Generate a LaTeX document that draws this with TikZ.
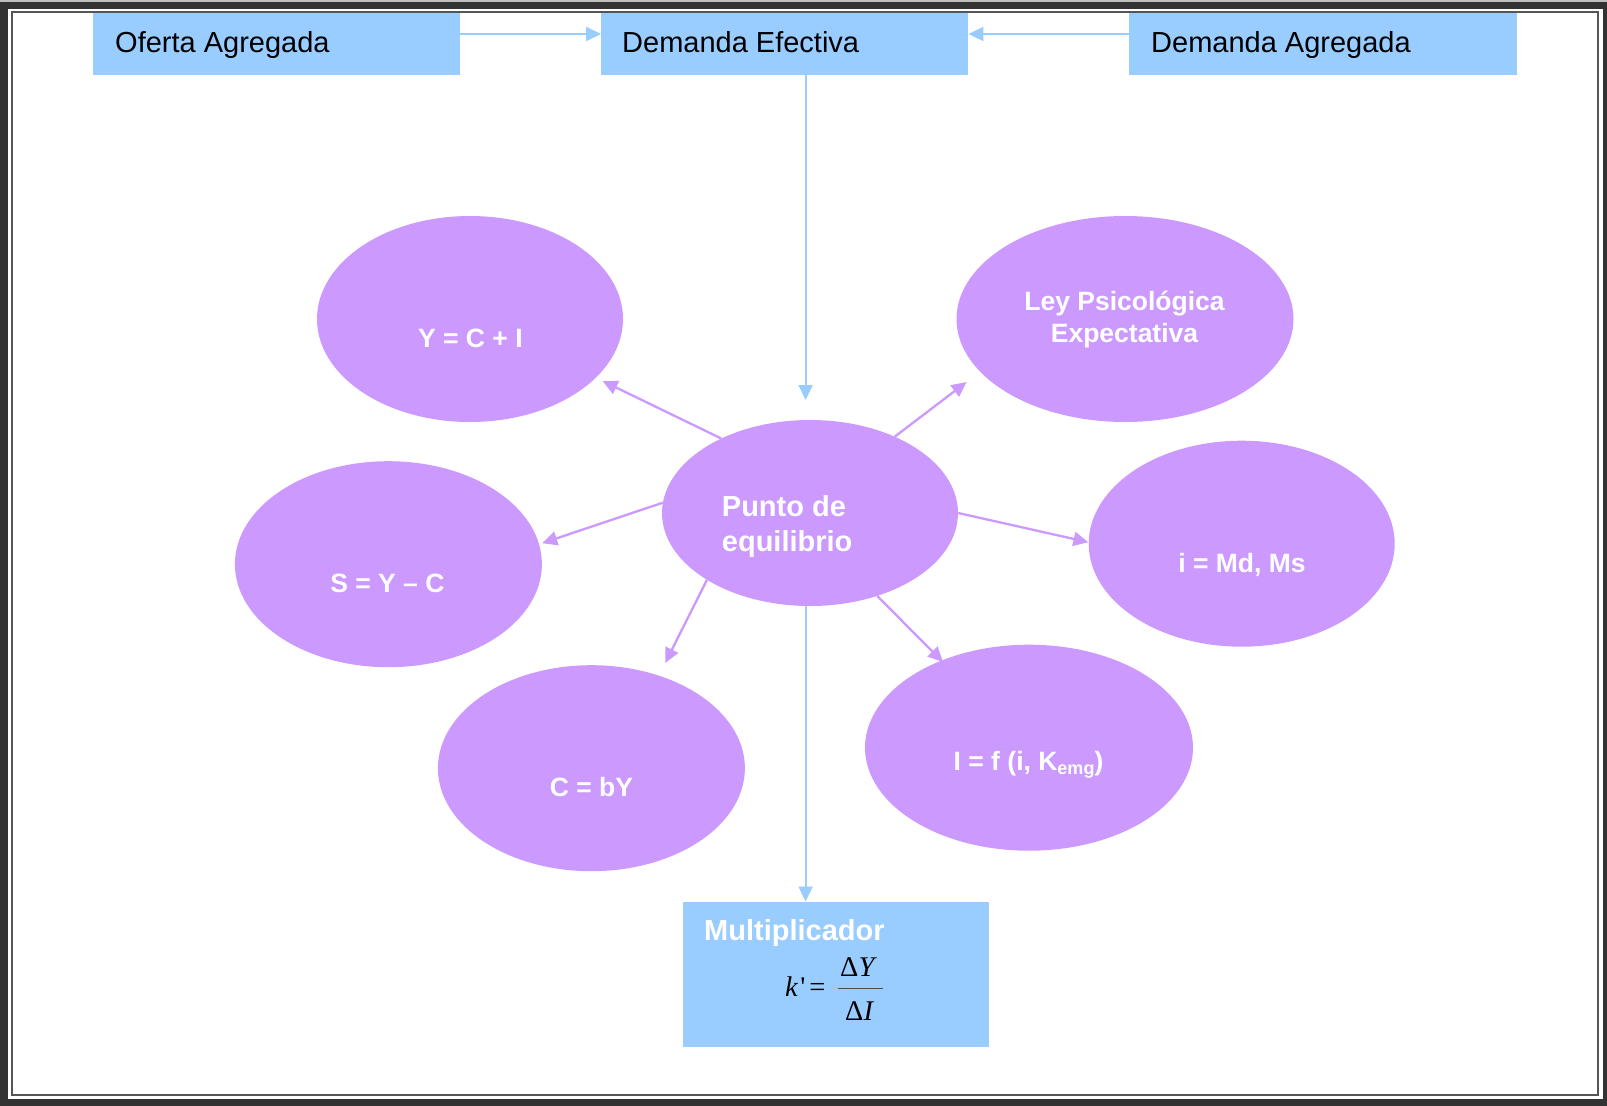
\documentclass[tikz,border=0pt]{standalone}
\usepackage{fontspec}
\setmainfont{Liberation Sans}
\newfontfamily\serifft{Liberation Serif}
\usetikzlibrary{arrows.meta,shapes.geometric}
\definecolor{boxblue}{HTML}{99CCFF}
\definecolor{lilac}{HTML}{CC99FF}
\definecolor{framedark}{HTML}{333333}
\definecolor{frameline}{HTML}{555555}
\begin{document}
\begin{tikzpicture}[x=1pt,y=-1pt]
\tikzset{
 topbox/.style={fill=boxblue, inner sep=0pt, anchor=north west},
 toptext/.style={anchor=base west, inner sep=0pt, text=black, font=\fontsize{29}{35}\selectfont},
 bubble/.style={ellipse, fill=lilac, inner sep=0pt},
 bubtext/.style={anchor=base, inner sep=0pt, text=white, font=\bfseries\fontsize{26.5}{32}\selectfont},
 bigwhite/.style={anchor=base west, inner sep=0pt, text=white, font=\bfseries\fontsize{29}{35}\selectfont},
 formula/.style={anchor=base west, inner sep=0pt, text=black, font=\serifft\fontsize{28.5}{30}\selectfont},
 barr/.style={draw=boxblue, line width=2pt, -{Triangle[length=15pt,width=14pt]}},
 parr/.style={draw=lilac, line width=2.3pt, -{Triangle[length=15pt,width=14pt]}},
}
\useasboundingbox (0,0) rectangle (1607,1106);
% frame
\fill[framedark] (0,0) rectangle (1607,1106);
\fill[black!25] (0,0) rectangle (1607,1.7);
\fill[white] (8,9) rectangle (1603,1099);
\draw[frameline, line width=2pt] (12,12) rectangle (1598,1095);

% top boxes
\node[topbox, minimum width=367pt, minimum height=62pt] (oa) at (93,13) {};
\node[topbox, minimum width=367pt, minimum height=62pt] (de) at (601,13) {};
\node[topbox, minimum width=388pt, minimum height=62pt] (da) at (1129,13) {};
\node[toptext] (oat) at (115,52) {Oferta Agregada};
\node[toptext] (det) at (622,52) {Demanda Efectiva};
\node[toptext] (dat) at (1151,52) {Demanda Agregada};

\coordinate (ya) at (0,34);
\draw[barr] (oa.east |- ya) -- (de.west |- ya);
\draw[barr] (da.west |- ya) -- (de.east |- ya);

% bubbles
\node[bubble, minimum width=306pt, minimum height=206pt] (yci) at (470,319) {};
\node[bubble, minimum width=337pt, minimum height=206pt] (ley) at (1125,319) {};
\node[bubble, minimum width=307pt, minimum height=206pt] (syc) at (388.4,564.2) {};
\node[bubble, minimum width=306pt, minimum height=206pt] (imd) at (1241.7,543.7) {};
\node[bubble, minimum width=307pt, minimum height=206pt] (cby) at (591.4,768.2) {};
\node[bubble, minimum width=328pt, minimum height=206pt] (ifk) at (1029,747.7) {};
\node[bubble, minimum width=296pt, minimum height=186pt] (punto) at (810,513) {};

% tips
\coordinate (detip) at (805.6,400);
\coordinate (mtop) at (805.6,901.5);
\coordinate (t1) at (602.6,381);
\coordinate (t2) at (966.6,382);
\coordinate (t3) at (542.2,543.2);
\coordinate (t4) at (1088.4,542.2);
\coordinate (t5) at (665.2,663);
\coordinate (t6) at (943,662);

\draw[barr] (de.south -| detip) -- (detip);
\draw[parr] (punto.140.3) -- (t1);
\draw[parr] (punto.42.7) -- (t2);
\draw[parr] (punto.176.1) -- (t3);
\draw[parr] (punto.0.6) -- (t4);
\draw[parr] (punto.213.8) -- (t5);
\draw[parr] (punto.-51.1) -- (t6);

% multiplicador
\node[topbox, minimum width=306.5pt, minimum height=145pt] (mult) at (682.5,901.5) {};
\draw[barr] (punto.south -| mtop) -- (mtop);
\node[bigwhite] (multt) at (704,940) {Multiplicador};
\node[formula] (kq) at (785,996.7) {\textit{k}\hspace{2pt}\symbol{39}\hspace{4pt}=};
\node[formula] (num) at (840,976.7) {Δ\textit{Y}};
\node[formula] (den) at (845,1020.7) {Δ\textit{I}};
\draw[line width=1.6pt, black!70] (838,988.3) -- (883,988.3);

% bubble texts
\node[bubtext] (ycit) at (470.4,347.5) {Y = C + I};
\node[bubtext] (leyt1) at (1124.5,310) {Ley Psicológica};
\node[bubtext] (leyt2) at (1124.5,342.7) {Expectativa};
\node[bubtext] (syct) at (387.4,592.7) {S = Y – C};
\node[bubtext] (imdt) at (1242,572) {i = Md, Ms};
\node[bubtext] (cbyt) at (591.4,796.6) {C = bY};
\node[bubtext] (ifkt) at (1028.5,770) {I = f (i, K\raisebox{-4pt}{\fontsize{18}{18}\selectfont emg})};
\node[bigwhite] (pt1) at (721.7,516.7) {Punto de};
\node[bigwhite] (pt2) at (721.7,551.7) {equilibrio};
\end{tikzpicture}
\end{document}
